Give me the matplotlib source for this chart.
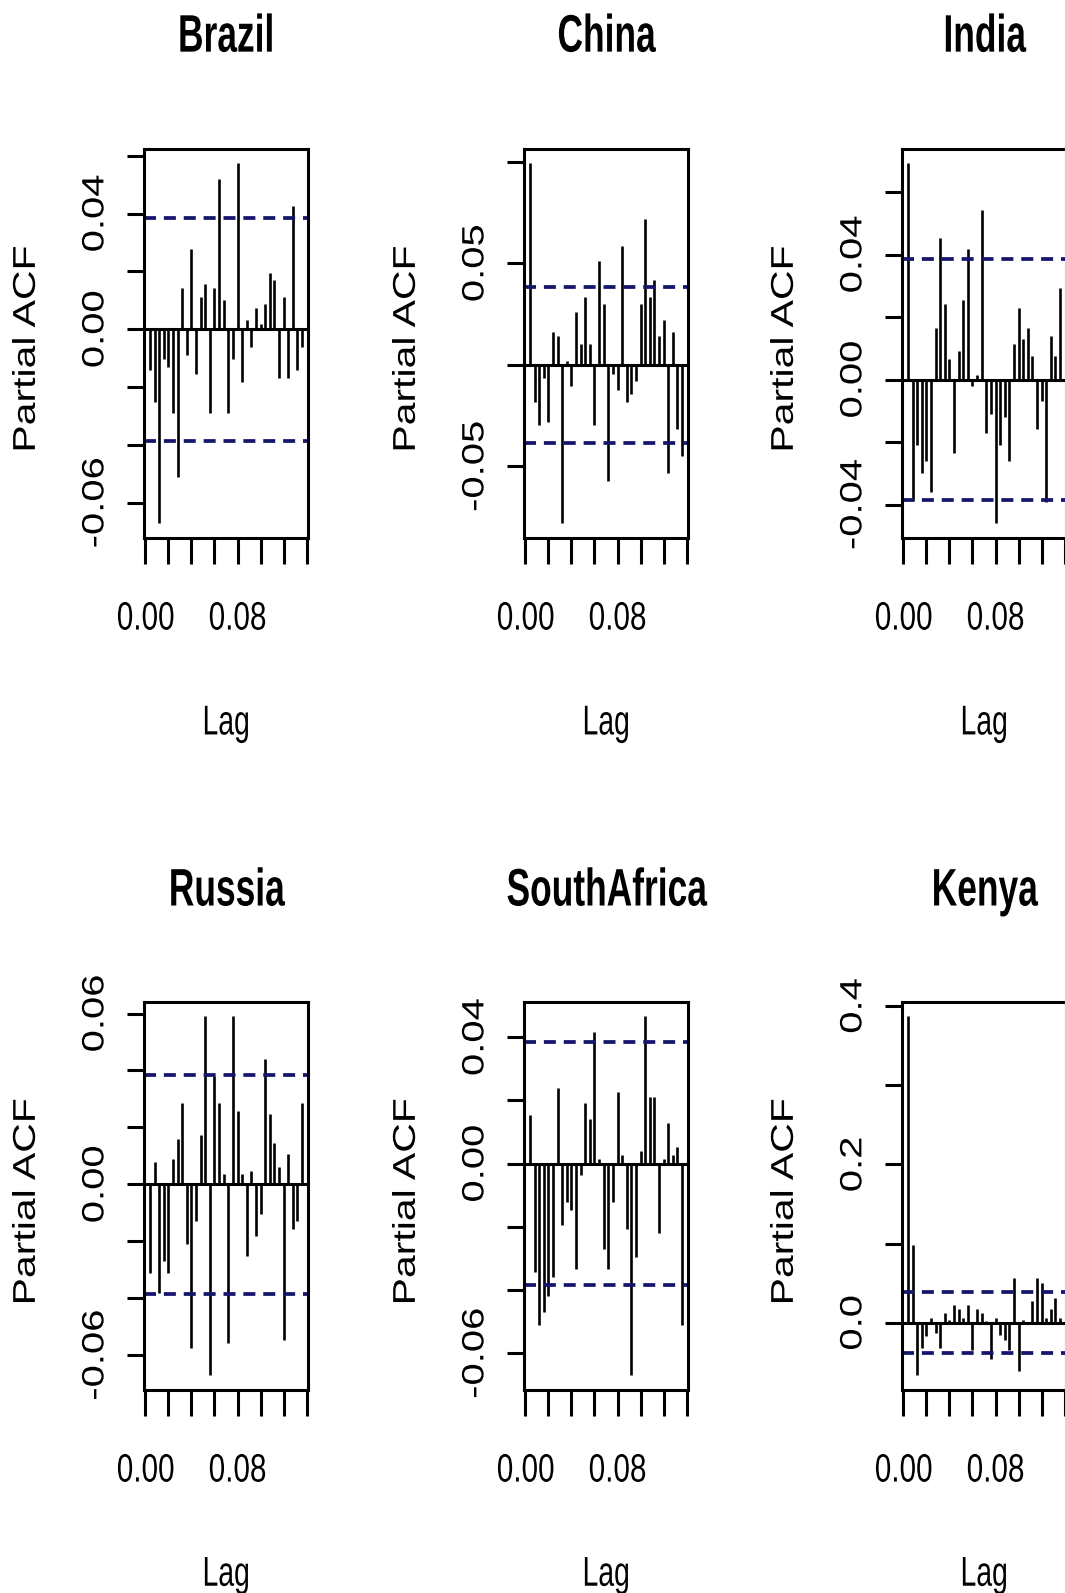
import numpy as np
import matplotlib.pyplot as plt
from matplotlib.patheffects import AbstractPathEffect
from matplotlib.transforms import Affine2D

# PACF of daily returns, lags 1..34 at frequency 250
countries = ['Brazil', 'China', 'India', 'Russia', 'SouthAfrica', 'Kenya']
freq = 250
lag_idx = np.arange(1, 35)
ci = 0.0385

brazil = [-0.0141, -0.0252, -0.067, -0.0104, -0.013, -0.029, -0.051, 0.0141, -0.009, 0.0278,
          -0.0155, 0.0113, 0.0155, -0.029, 0.0141, 0.052, 0.010, -0.029, -0.0104, 0.0575,
          -0.0184, 0.0032, -0.0062, 0.0073, 0.0018, 0.0087, 0.0196, 0.0169, -0.0169, 0.0113,
          -0.0169, 0.0426, -0.0141, -0.0062]
china = [0.0994, -0.0183, -0.0297, -0.0065, -0.028, 0.0162, 0.0141, -0.0779, 0.002, -0.0102,
         0.026, 0.0104, 0.0336, 0.0104, -0.0297, 0.0511, 0.0299, -0.057, -0.0045, -0.0123,
         0.0584, -0.0183, -0.0143, -0.0081, 0.0299, 0.072, 0.0336, 0.0417, 0.0141, 0.0219,
         -0.0532, 0.0162, -0.0318, -0.0451]
india = [0.0693, -0.0388, -0.0209, -0.0299, -0.0259, -0.0359, 0.0166, 0.0454, 0.0242, 0.0065,
         -0.0235, 0.009, 0.0253, 0.0419, -0.0019, 0.0016, 0.0542, -0.0172, -0.0109, -0.0459,
         -0.0209, -0.0121, -0.0259, 0.0115, 0.0229, 0.0129, 0.0166, 0.0076, -0.0159, -0.007,
         -0.0391, 0.0139, 0.0076, 0.0292]
russia = [-0.031, 0.0078, -0.038, -0.0269, -0.031, 0.009, 0.016, 0.0287, -0.0211, -0.0573,
          -0.0129, 0.0175, 0.059, -0.067, 0.038, 0.0287, 0.0035, -0.0558, 0.059, 0.0257,
          0.0035, -0.0251, 0.0047, -0.0181, -0.0105, 0.0439, 0.0246, 0.0146, 0.0062, -0.0547,
          0.0105, -0.0156, -0.0129, 0.0287]
southafrica = [0.0154, -0.0344, -0.0509, -0.047, -0.042, -0.036, 0.0238, -0.0194, -0.0122, -0.0147,
               -0.0334, -0.0035, 0.0191, 0.0141, 0.0417, 0.0015, -0.0271, -0.0334, -0.0122, 0.0226,
               0.0028, -0.0208, -0.0669, -0.0295, 0.0039, 0.0466, 0.0212, 0.021, -0.022, 0.0015,
               0.0128, 0.0028, 0.0052, -0.0509]
kenya = [0.387, 0.098, -0.066, -0.032, -0.017, 0.006, -0.013, -0.032, 0.013, 0.003,
         0.022, 0.018, 0.006, 0.022, -0.034, 0.017, 0.013, 0.002, -0.046, 0.006,
         -0.015, -0.021, -0.034, 0.057, -0.061, 0.003, -0.002, 0.027, 0.057, 0.050,
         0.006, 0.017, 0.032, 0.006]
series = [brazil, china, india, russia, southafrica, kenya]

xticks = [0.0, 0.02, 0.04, 0.06, 0.08, 0.10, 0.12, 0.14]
xlabels = ['0.00', '', '', '', '0.08', '', '', '']

yticks = [
    [-0.06, -0.04, -0.02, 0.0, 0.02, 0.04, 0.06],
    [-0.05, 0.0, 0.05, 0.10],
    [-0.04, -0.02, 0.0, 0.02, 0.04, 0.06],
    [-0.06, -0.04, -0.02, 0.0, 0.02, 0.04, 0.06],
    [-0.06, -0.04, -0.02, 0.0, 0.02, 0.04],
    [0.0, 0.1, 0.2, 0.3, 0.4],
]
ylabels = [
    ['-0.06', '', '', '0.00', '', '0.04', ''],
    ['-0.05', '', '0.05', ''],
    ['-0.04', '', '0.00', '', '0.04', ''],
    ['-0.06', '', '', '0.00', '', '', '0.06'],
    ['-0.06', '', '', '0.00', '', '0.04'],
    ['0.0', '', '0.2', '', '0.4'],
]

font = ['Liberation Sans', 'DejaVu Sans']
navy = '#15156e'


class Squeeze(AbstractPathEffect):
    """Squash text horizontally (the reference image is compressed sideways)."""
    def __init__(self, sx):
        super().__init__()
        self.sx = sx

    def draw_path(self, renderer, gc, tpath, affine, rgbFace=None):
        ext = affine.transform_path(tpath).get_extents()
        cx = ext.x0 + ext.width / 2
        aff = affine + Affine2D().translate(-cx, 0).scale(self.sx, 1).translate(cx, 0)
        renderer.draw_path(gc, tpath, aff, rgbFace)


W, H = 1065, 1593
fig = plt.figure(figsize=(W / 100, H / 100), dpi=100)

col_left = [144, 524, 902]
box_w = 164
row_top = [148.5, 1002]
row_h = [389, 387.5]

lags = lag_idx / freq
for i, name in enumerate(countries):
    r, c = divmod(i, 3)
    ax = fig.add_axes([col_left[c] / W, 1 - (row_top[r] + row_h[r]) / H,
                       box_w / W, row_h[r] / H])
    vals = np.array(series[i])
    ax.vlines(lags, 0, vals, color='black', lw=1.9)
    ax.axhline(0, color='black', lw=2.2)
    for s in (1, -1):
        ax.axhline(s * ci, color=navy, lw=2.7, ls=(0, (3.2, 2.1)))

    # R-style 4% axis padding
    lo, hi = min(vals.min(), -ci), max(vals.max(), ci)
    pad = 0.04 * (hi - lo)
    ax.set_ylim(lo - pad, hi + pad)
    xp = 0.04 * (lags[-1] - lags[0])
    ax.set_xlim(lags[0] - xp, lags[-1] + xp)

    ax.set_xticks(xticks)
    ax.set_xticklabels(xlabels, fontfamily=font, fontsize=28.5)
    ax.set_yticks(yticks[i])
    ax.set_yticklabels(ylabels[i], rotation=90, va='center', fontfamily=font, fontsize=28.8)
    ax.tick_params(axis='x', length=18.7, width=2.2, pad=26)
    ax.tick_params(axis='y', length=12.2, width=2.2, pad=9)
    for lbl in ax.get_xticklabels():
        lbl.set_path_effects([Squeeze(0.75)])
    for lbl in ax.get_yticklabels():
        lbl.set_path_effects([Squeeze(0.77)])
    for sp in ax.spines.values():
        sp.set_linewidth(2.2)

    t = ax.set_title(name, fontfamily=font, fontweight='bold', fontsize=38, y=1.249, pad=0)
    t.set_path_effects([Squeeze(0.67)])
    xl = ax.set_xlabel('Lag', fontfamily=font, fontsize=30, va='center')
    xl.set_path_effects([Squeeze(0.68)])
    ax.xaxis.set_label_coords(0.5, -0.478)
    yl = ax.set_ylabel('Partial ACF', fontfamily=font, fontsize=29.5, va='center')
    yl.set_path_effects([Squeeze(0.77)])
    ax.yaxis.set_label_coords(-0.712, 0.485)

fig.savefig('out.png', dpi=100)
